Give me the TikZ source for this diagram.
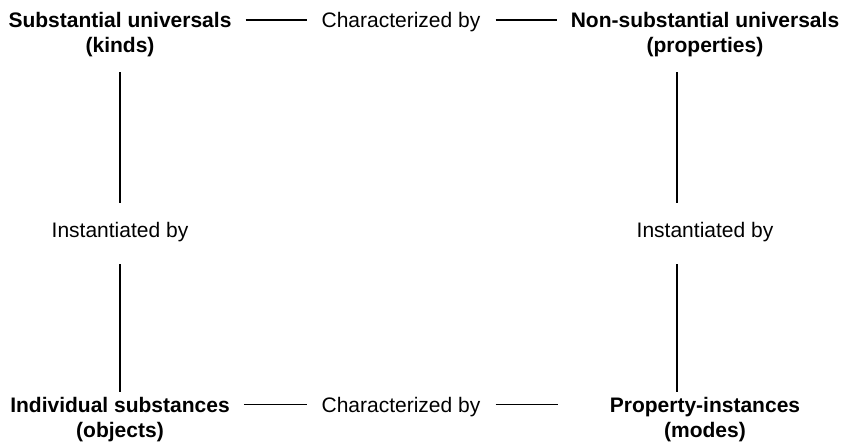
\documentclass[tikz,border=0pt]{standalone}
\usepackage{fontspec}
\setmainfont{Liberation Sans}
\begin{document}
\begin{tikzpicture}[x=1pt,y=-1pt,
  lbl/.style={anchor=base,inner sep=0pt,font=\fontsize{21}{25}\selectfont},
  blbl/.style={lbl,font=\fontsize{21}{25}\selectfont\bfseries},
  conn/.style={draw=black,line width=1.1pt}]
\useasboundingbox (0,0) rectangle (844,442);
% top row
\node[blbl] (su1) at (120,27) {Substantial universals};
\node[blbl] (su2) at (120,52) {(kinds)};
\node[lbl]  (ch1) at (401,27) {Characterized by};
\node[blbl] (ns1) at (705,27) {Non-substantial universals};
\node[blbl] (ns2) at (705,52) {(properties)};
% middle
\node[lbl] (in1) at (120,237) {Instantiated by};
\node[lbl] (in2) at (705,237) {Instantiated by};
% bottom row
\node[blbl] (is1) at (120,412) {Individual substances};
\node[blbl] (is2) at (120,437) {(objects)};
\node[lbl]  (ch2) at (401,412) {Characterized by};
\node[blbl] (pi1) at (705,412) {Property-instances};
\node[blbl] (pi2) at (705,437) {(modes)};
% horizontal connectors
\draw[conn] ([xshift=14pt,yshift=7pt]su1.base east) -- ([xshift=-14pt,yshift=7pt]ch1.base west);
\draw[conn] ([xshift=15pt,yshift=7pt]ch1.base east) -- ([xshift=-14pt,yshift=7pt]ns1.base west);
\draw[conn] ([xshift=14pt,yshift=7.5pt]is1.base east) -- ([xshift=-14pt,yshift=7.5pt]ch2.base west);
\draw[conn] ([xshift=15pt,yshift=7.5pt]ch2.base east) -- ([xshift=-52pt,yshift=7.5pt]pi1.base west);
% vertical connectors
\draw[conn] ([yshift=-20pt]su2.base) -- ([yshift=34pt]in1.base);
\draw[conn] ([yshift=-27pt]in1.base) -- ([yshift=20pt]is1.base);
\draw[conn] ([yshift=-20pt,xshift=-28pt]ns2.base) -- ([yshift=34pt,xshift=-28pt]in2.base);
\draw[conn] ([yshift=-27pt,xshift=-28pt]in2.base) -- ([yshift=20pt,xshift=-28pt]pi1.base);
\end{tikzpicture}
\end{document}
